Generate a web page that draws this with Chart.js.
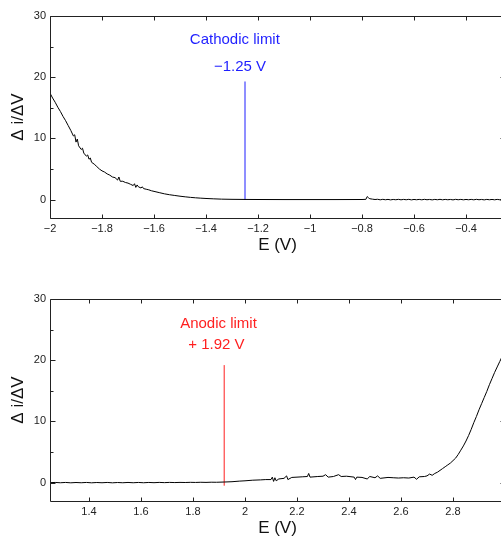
<!DOCTYPE html>
<html>
<head>
<meta charset="utf-8">
<script src="https://cdn.jsdelivr.net/npm/chart.js@4"></script>
<style>
  html, body { margin: 0; padding: 0; background: #fff; overflow: hidden; width: 501px; height: 545px; }
  canvas { position: absolute; left: 0; }
  #cathodic { top: 0; }
  #anodic { top: 283px; }
</style>
</head>
<body>
<canvas id="cathodic" width="520" height="272"></canvas>
<canvas id="anodic" width="520" height="272"></canvas>
<script>
// cathodic sweep: potential (V) and differential current
const cathodicE = [
  -2.00, -1.99, -1.98, -1.97, -1.96, -1.95, -1.94, -1.93, -1.92, -1.91,
  -1.905, -1.90, -1.895, -1.89, -1.88, -1.875, -1.87, -1.86, -1.855, -1.85,
  -1.845, -1.84, -1.83, -1.82, -1.81, -1.80, -1.79, -1.78, -1.77, -1.76,
  -1.75, -1.74, -1.735, -1.73, -1.72, -1.71, -1.70, -1.69, -1.68, -1.675,
  -1.67, -1.665, -1.66, -1.65, -1.645, -1.64, -1.63, -1.62, -1.61, -1.60,
  -1.58, -1.56, -1.54, -1.52, -1.50, -1.48, -1.46, -1.44, -1.42, -1.40,
  -1.37, -1.34, -1.30, -1.25, -1.20, -1.10, -1.00, -0.90, -0.80, -0.785,
  -0.78, -0.775, -0.77, -0.76, -0.75, -0.74, -0.73, -0.72, -0.71, -0.70,
  -0.69, -0.68, -0.67, -0.66, -0.65, -0.64, -0.63, -0.62, -0.61, -0.60,
  -0.59, -0.58, -0.57, -0.56, -0.55, -0.54, -0.53, -0.52, -0.51, -0.50,
  -0.49, -0.48, -0.47, -0.46, -0.45, -0.44, -0.43, -0.42, -0.41, -0.40,
  -0.39, -0.38, -0.37, -0.36, -0.35, -0.34, -0.33, -0.32, -0.31, -0.30,
  -0.29, -0.28, -0.27, -0.26, -0.25
];
const cathodicSlope = [
  17.4, 16.6, 15.9, 15.1, 14.4, 13.6, 12.9, 12.1, 11.3, 10.4,
  10.6, 9.4, 9.9, 8.8, 8.2, 8.4, 7.6, 7.1, 7.3, 6.6,
  6.8, 6.1, 5.8, 5.4, 5.0, 4.7, 4.5, 4.2, 4.0, 3.7,
  3.6, 3.2, 3.7, 3.0, 3.0, 2.8, 2.7, 2.5, 2.3, 2.6,
  2.0, 2.4, 2.1, 1.9, 2.1, 1.8, 1.7, 1.6, 1.45, 1.35,
  1.15, 0.95, 0.8, 0.68, 0.56, 0.46, 0.37, 0.3, 0.24, 0.19,
  0.13, 0.08, 0.05, 0.03, 0.02, 0.01, 0.01, 0.01, 0.02, 0.05,
  0.5, 0.3, 0.15, 0.08, 0.02, 0.06, -0.03, 0.05, -0.02, 0.04,
  -0.04, 0.03, -0.02, 0.05, -0.03, 0.04, -0.02, 0.05, -0.04, 0.03,
  -0.02, 0.04, -0.03, 0.05, -0.02, 0.03, -0.04, 0.04, -0.02, 0.05,
  -0.03, 0.04, -0.02, 0.03, -0.04, 0.05, -0.02, 0.04, -0.03, 0.03,
  -0.02, 0.04, -0.03, 0.05, -0.02, 0.03, -0.04, 0.04, -0.02, 0.03,
  -0.03, 0.04, -0.02, 0.03, 0.01
];

// anodic sweep
const anodicE = [
  1.25, 1.27, 1.29, 1.31, 1.33, 1.35, 1.37, 1.39, 1.41, 1.43,
  1.45, 1.47, 1.49, 1.51, 1.53, 1.55, 1.57, 1.59, 1.61, 1.63,
  1.65, 1.67, 1.69, 1.71, 1.73, 1.75, 1.77, 1.79, 1.81, 1.83,
  1.85, 1.87, 1.89, 1.92, 1.95, 1.98,
  2.00, 2.03, 2.06, 2.08, 2.10, 2.105, 2.11, 2.115, 2.12, 2.13,
  2.15, 2.16, 2.165, 2.18, 2.20, 2.22, 2.24, 2.245, 2.25, 2.28,
  2.30, 2.31, 2.32, 2.34, 2.36, 2.37, 2.39, 2.40, 2.42, 2.425,
  2.43, 2.45, 2.47, 2.48, 2.50, 2.51, 2.52, 2.55, 2.57, 2.59,
  2.61, 2.63, 2.65, 2.66, 2.67, 2.69, 2.70, 2.71, 2.72, 2.73,
  2.74, 2.75, 2.76, 2.77, 2.78, 2.79, 2.80, 2.81, 2.82, 2.83,
  2.84, 2.85, 2.86, 2.87, 2.88, 2.89, 2.90, 2.91, 2.92, 2.93,
  2.94, 2.95, 2.96, 2.97, 2.98, 2.99, 3.00
];
const anodicSlope = [
  0.0, 0.03, -0.02, 0.03, -0.03, 0.02, -0.02, 0.03, -0.03, 0.02,
  -0.02, 0.03, -0.03, 0.02, -0.02, 0.03, -0.02, 0.03, -0.02, 0.03,
  -0.01, 0.04, 0.0, 0.04, 0.01, 0.04, 0.02, 0.05, 0.03, 0.06,
  0.04, 0.07, 0.06, 0.1, 0.15, 0.25,
  0.3, 0.4, 0.45, 0.5, 0.5, 0.9, 0.2, 0.8, 0.3, 0.6,
  0.7, 1.1, 0.5, 0.85, 0.9, 0.95, 1.0, 1.5, 0.9, 1.0,
  1.05, 1.3, 0.9, 1.0, 1.3, 1.0, 1.05, 1.0, 0.9, 0.5,
  0.9, 0.85, 0.6, 1.0, 0.8, 1.1, 0.7, 0.85, 0.8, 0.75,
  0.8, 0.75, 0.9, 0.55, 0.95, 1.0, 1.1, 1.4, 1.2, 1.5,
  1.7, 2.0, 2.3, 2.6, 2.9, 3.2, 3.6, 4.0, 4.6, 5.3,
  6.0, 6.8, 7.7, 8.7, 9.8, 10.8, 11.9, 12.9, 13.9, 14.9,
  16.0, 17.0, 18.0, 18.9, 19.8, 20.7, 21.5
];

// stability limits: potential of the marker and its vertical extent
const cathodicLimitE = [-1.25, -1.25];
const cathodicLimitSlope = [0, 19.3];
const anodicLimitE = [1.92, 1.92];
const anodicLimitSlope = [-0.5, 19.2];

const yTicks = [0, 10, 20, 30];

const FONT = '"Liberation Sans", Arial, Helvetica, sans-serif';

function pairs(xs, ys) {
  return xs.map((x, i) => ({ x: x, y: ys[i] }));
}

function fmt(v) {
  const s = String(Number(v.toFixed(2)));
  return s.replace('-', '\u2212');
}

// box frame with inward tick marks (major on x and y, minor on y)
const frameTicks = {
  id: 'frameTicks',
  afterDatasetsDraw(chart) {
    const { ctx, chartArea: a, scales: { x, y } } = chart;
    const L = Math.round(a.left) + 0.5, R = Math.round(a.right) + 0.5;
    const T = Math.round(a.top) + 0.5, B = Math.round(a.bottom) + 0.5;
    ctx.save();
    ctx.strokeStyle = '#222';
    ctx.lineWidth = 1;
    ctx.beginPath();
    ctx.rect(L, T, R - L, B - T);
    x.ticks.forEach(t => {
      const px = Math.round(x.getPixelForValue(t.value)) + 0.5;
      ctx.moveTo(px, B); ctx.lineTo(px, B - 4);
      ctx.moveTo(px, T); ctx.lineTo(px, T + 4);
    });
    const half = y.options.ticks.stepSize / 2;
    y.ticks.forEach(t => {
      const py = Math.round(y.getPixelForValue(t.value)) + 0.5;
      ctx.moveTo(L, py); ctx.lineTo(L + 5, py);
      ctx.moveTo(R, py); ctx.lineTo(R - 5, py);
      const m = t.value + half;
      if (m < y.max) {
        const pm = Math.round(y.getPixelForValue(m)) + 0.5;
        ctx.moveTo(L, pm); ctx.lineTo(L + 3, pm);
        ctx.moveTo(R, pm); ctx.lineTo(R - 3, pm);
      }
    });
    ctx.stroke();
    ctx.restore();
  }
};

// text next to the limit marker, placed in data coordinates
const limitLabel = {
  id: 'limitLabel',
  afterDraw(chart, args, opts) {
    const { ctx, scales: { x, y } } = chart;
    ctx.save();
    ctx.fillStyle = opts.color;
    ctx.font = '15px ' + FONT;
    ctx.textAlign = 'center';
    ctx.textBaseline = 'middle';
    opts.lines.forEach(l => {
      ctx.fillText(l.text, x.getPixelForValue(l.x), y.getPixelForValue(l.y));
    });
    ctx.restore();
  }
};

function makeChart(id, curve, marker, xMin, xMax, label) {
  return new Chart(document.getElementById(id), {
    type: 'line',
    data: {
      datasets: [
        {
          data: curve,
          borderColor: '#000',
          borderWidth: 1,
          pointRadius: 0,
          tension: 0
        },
        {
          data: marker,
          borderColor: label.color,
          borderWidth: 1,
          pointRadius: 0
        }
      ]
    },
    options: {
      responsive: false,
      animation: false,
      events: [],
      layout: { padding: { top: 16, right: 15, left: 0, bottom: 0 } },
      plugins: {
        legend: { display: false },
        tooltip: { enabled: false },
        limitLabel: label
      },
      scales: {
        x: {
          type: 'linear',
          min: xMin,
          max: xMax,
          grid: { display: false, drawTicks: false, tickLength: 0 },
          border: { display: false },
          ticks: {
            stepSize: 0.2,
            includeBounds: false,
            maxRotation: 0,
            autoSkip: false,
            padding: 4,
            color: '#222',
            font: { family: FONT, size: 11 },
            callback: v => fmt(v)
          },
          title: {
            display: true,
            text: 'E (V)',
            color: '#111',
            font: { family: FONT, size: 17 },
            padding: { top: 0, bottom: 16 }
          },
          afterFit(scale) {
            scale.height = 54;
            scale.paddingLeft = 0;
            scale.paddingRight = 0;
          }
        },
        y: {
          min: -3,
          max: 30,
          grid: { display: false, drawTicks: false, tickLength: 0 },
          border: { display: false },
          afterBuildTicks(scale) {
            scale.ticks = yTicks.map(v => ({ value: v }));
          },
          ticks: {
            stepSize: 10,
            padding: 4,
            color: '#222',
            font: { family: FONT, size: 11 },
            callback: v => fmt(v)
          },
          title: {
            display: true,
            text: '\u0394 i/\u0394V',
            color: '#111',
            font: { family: FONT, size: 17 },
            padding: { top: 8, bottom: 0 }
          },
          afterFit(scale) {
            scale.width = 50;
          }
        }
      }
    },
    plugins: [frameTicks, limitLabel]
  });
}

makeChart('cathodic',
  pairs(cathodicE, cathodicSlope),
  pairs(cathodicLimitE, cathodicLimitSlope),
  -2, -0.25,
  {
    color: '#1f1fff',
    lines: [
      { text: 'Cathodic limit', x: -1.289, y: 26.1 },
      { text: '\u22121.25 V', x: -1.269, y: 21.7 }
    ]
  });

makeChart('anodic',
  pairs(anodicE, anodicSlope),
  pairs(anodicLimitE, anodicLimitSlope),
  1.25, 3.0,
  {
    color: '#ff1f1f',
    lines: [
      { text: 'Anodic limit', x: 1.898, y: 25.9 },
      { text: '+ 1.92 V', x: 1.890, y: 22.5 }
    ]
  });
</script>
</body>
</html>
